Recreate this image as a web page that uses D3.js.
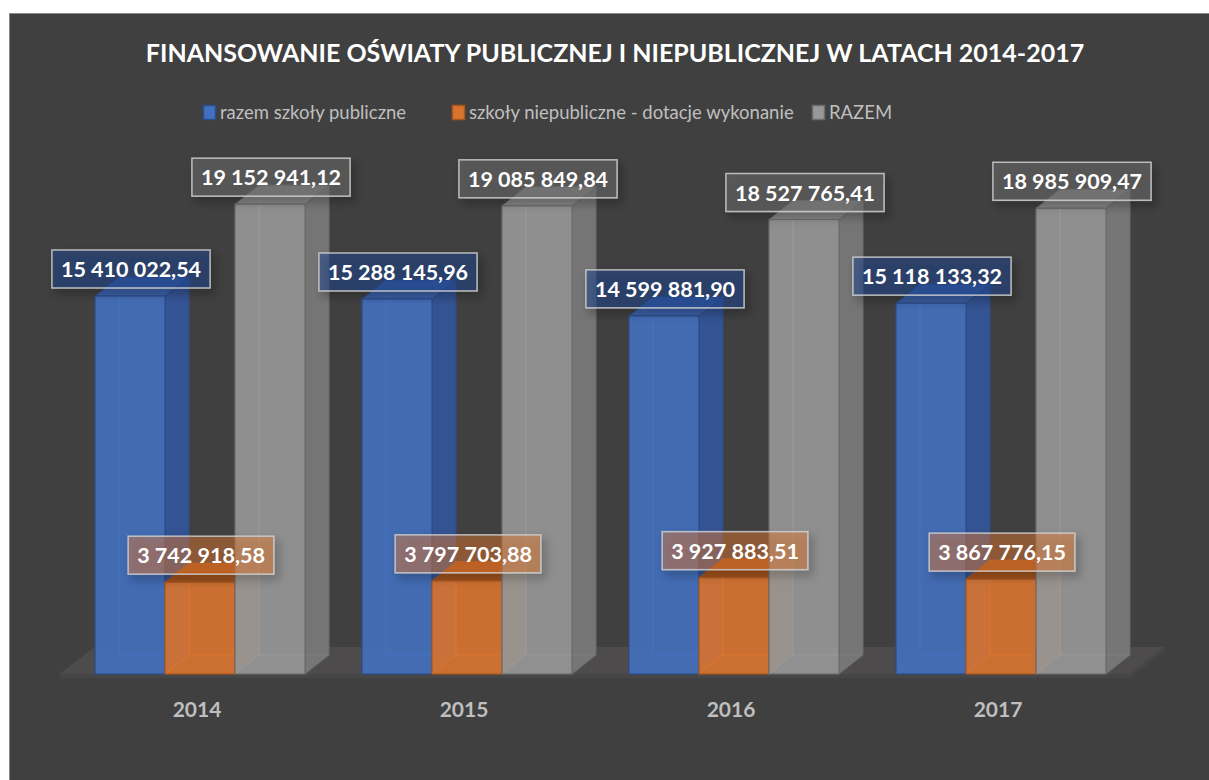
<!DOCTYPE html>
<html>
<head>
<meta charset="utf-8">
<script src="https://cdn.jsdelivr.net/npm/d3@7"></script>
<style>
  body { margin: 0; background: #ffffff; }
  svg text { font-family: Lato, "Open Sans", sans-serif; }
</style>
</head>
<body>
<svg id="chart" width="1209" height="780"></svg>
<script>
// Data
var years = ["2014", "2015", "2016", "2017"];
var seriesNames = ["razem szkoły publiczne", "szkoły niepubliczne - dotacje wykonanie", "RAZEM"];
var publiczne = [15410022.54, 15288145.96, 14599881.90, 15118133.32];
var niepubliczne = [3742918.58, 3797703.88, 3927883.51, 3867776.15];
var razem = [19152941.12, 19085849.84, 18527765.41, 18985909.47];
var series = [publiczne, niepubliczne, razem];

// colours per series: front, side, top, edge, label fill
var colors = [
  {front: "#4270bf", side: "#33559a", top: "#3b5fa6", edge: "#2c4d89", label: "#1f4590", la: 0.5},
  {front: "#d9742f", side: "#b05c22", top: "#9e511c", edge: "#a9561f", label: "#ed7d31", la: 0.4},
  {front: "#989898", side: "#7a7a7a", top: "#858585", edge: "#6c6c6c", label: "#6e6e6e", la: 0.5}
];

var svg = d3.select("#chart");

// drop shadow for the data labels
var defs = svg.append("defs");
var f = defs.append("filter").attr("id", "shadow").attr("x", "-20%").attr("y", "-40%").attr("width", "150%").attr("height", "200%");
f.append("feDropShadow").attr("dx", 4).attr("dy", 5).attr("stdDeviation", 5).attr("flood-color", "#000").attr("flood-opacity", 0.45);

// chart background
svg.append("rect").attr("x", 9.5).attr("y", 13.5).attr("width", 1210).attr("height", 780)
  .attr("fill", "#404040").attr("stroke", "#8a8a8a").attr("stroke-width", 1);

// title
svg.append("text").attr("x", 615).attr("y", 62).attr("text-anchor", "middle")
  .attr("fill", "#ffffff").style("font-size", "25px").style("font-weight", "bold")
  .text("FINANSOWANIE OŚWIATY PUBLICZNEJ I NIEPUBLICZNEJ W LATACH 2014-2017");

// legend
var legendX = [203, 452, 812];
seriesNames.forEach(function(name, i) {
  var g = svg.append("g").attr("transform", "translate(" + legendX[i] + ",0)");
  g.append("rect").attr("x", 0.5).attr("y", 105.5).attr("width", 12).attr("height", 14)
    .attr("fill", colors[i].front).attr("stroke", colors[i].edge).attr("stroke-width", 1.5);
  g.append("text").attr("x", 17).attr("y", 119).attr("fill", "#bfbfbf")
    .style("font-size", "18.5px").text(name);
});

// scales
var x = d3.scaleBand().domain(years).range([63.5, 1131.5]);
var xs = d3.scaleBand().domain(d3.range(series.length)).range([31.5, 241.5]);
var y = d3.scaleLinear().domain([0, 20000000]).range([674, 183.4]);

var dx = 24, dy = -19;      // bar depth
var fdx = 35, fdy = -27;    // floor depth

// floor
var x0 = x.range()[0] - 4, x1 = x.range()[1] - 2;
svg.append("path")
  .attr("d", "M" + x0 + "," + y(0) + "L" + (x0 + fdx) + "," + (y(0) + fdy) + "L" + (x1 + fdx) + "," + (y(0) + fdy) + "L" + x1 + "," + y(0) + "Z")
  .attr("fill", "#4d4b4b");
svg.append("path")
  .attr("d", "M" + x0 + "," + y(0) + "L" + x1 + "," + y(0) + "L" + (x1 + fdx) + "," + (y(0) + fdy) + "L" + (x1 + fdx) + "," + (y(0) + fdy + 4) + "L" + x1 + "," + (y(0) + 4) + "L" + x0 + "," + (y(0) + 4) + "Z")
  .attr("fill", "#474646");

// bars
var fmt = function(v) {
  var parts = v.toFixed(2).split(".");
  return parts[0].replace(/\B(?=(\d{3})+(?!\d))/g, " ") + "," + parts[1];
};

var bars = svg.append("g");
years.forEach(function(yr, j) {
  series.forEach(function(s, i) {
    var c = colors[i];
    var bx = x(yr) + xs(i), bw = xs.bandwidth();
    var top = y(s[j]), base = y(0);
    var g = bars.append("g");
    // hidden back edges, seen through the faces
    g.append("path")
      .attr("d", "M" + bx + "," + base + "L" + (bx + dx) + "," + (base + dy) + "L" + (bx + bw + dx) + "," + (base + dy)
        + "M" + (bx + dx) + "," + (base + dy) + "L" + (bx + dx) + "," + (top + dy))
      .attr("fill", "none").attr("stroke", d3.color(c.front).brighter(0.4)).attr("stroke-width", 1);
    // side
    g.append("path")
      .attr("d", "M" + (bx + bw) + "," + base + "L" + (bx + bw + dx) + "," + (base + dy) + "L" + (bx + bw + dx) + "," + (top + dy) + "L" + (bx + bw) + "," + top + "Z")
      .attr("fill", c.side).attr("fill-opacity", 0.92).attr("stroke", c.edge).attr("stroke-width", 1);
    // top
    g.append("path")
      .attr("d", "M" + bx + "," + top + "L" + (bx + dx) + "," + (top + dy) + "L" + (bx + bw + dx) + "," + (top + dy) + "L" + (bx + bw) + "," + top + "Z")
      .attr("fill", c.top).attr("stroke", c.edge).attr("stroke-width", 1);
    // front
    g.append("rect").attr("x", bx).attr("y", top).attr("width", bw).attr("height", base - top)
      .attr("fill", c.front).attr("fill-opacity", 0.9).attr("stroke", c.edge).attr("stroke-width", 1.2);
  });
});

// data labels
var labels = svg.append("g");
years.forEach(function(yr, j) {
  series.forEach(function(s, i) {
    var cx = x(yr) + xs(i) + xs.bandwidth() / 2 + 1;
    var cy = y(s[j]) - 27;
    var g = labels.append("g");
    var r = g.append("rect").attr("fill", colors[i].label).attr("fill-opacity", colors[i].la)
      .attr("stroke", "#d0d0d0").attr("stroke-opacity", 0.85).attr("stroke-width", 1.5)
      .attr("filter", "url(#shadow)");
    var t = g.append("text").attr("x", cx).attr("y", cy + 8).attr("text-anchor", "middle")
      .attr("fill", "#ffffff").style("font-size", "21.5px").style("font-weight", "bold")
      .text(fmt(s[j]));
    var w = t.node().getComputedTextLength() + 18;
    r.attr("x", cx - w / 2).attr("y", cy - 19).attr("width", w).attr("height", 38);
  });
});

// x axis labels
var xAxis = d3.axisBottom(x).tickSize(0).tickPadding(0);
var ax = svg.append("g").attr("transform", "translate(0,702)").call(xAxis);
ax.select(".domain").remove();
ax.selectAll("text").attr("fill", "#bfbfbf").style("font-size", "21px").style("font-weight", "bold")
  .style("font-family", "Lato, 'Open Sans', sans-serif");
</script>
</body>
</html>
